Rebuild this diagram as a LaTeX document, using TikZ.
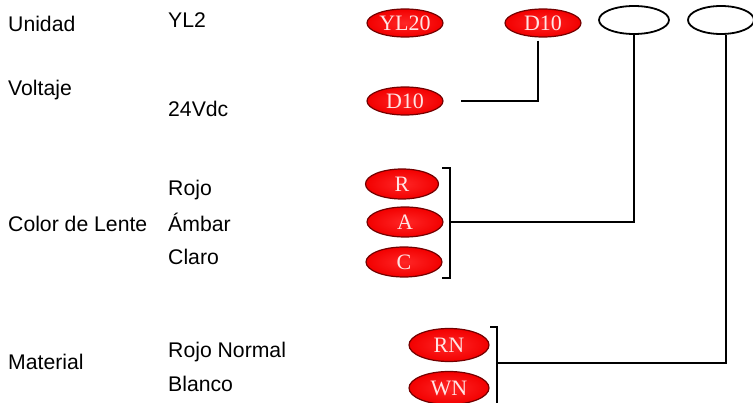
\documentclass[tikz,border=0pt]{standalone}
\usepackage{fontspec}
\setmainfont{Liberation Sans}
\newfontfamily\ovalfont{Liberation Serif}
\usetikzlibrary{shapes.geometric}

\begin{document}
\begin{tikzpicture}[x=1pt,y=-1pt,
    lbl/.style={anchor=base west,inner sep=0pt,font=\fontsize{21.2}{24}\selectfont},
    pill/.style={ellipse,draw=red!45!black,line width=1.2pt,inner color=red!85!white,outer color=red!95!black,text=white!90!red,minimum width=76pt,minimum height=28pt,inner sep=0pt,font=\ovalfont\fontsize{22}{22}\selectfont},
    ring/.style={ellipse,draw,line width=1.8pt,minimum width=70pt,minimum height=28pt,inner sep=0pt},
    link/.style={line width=1.2pt}]
    \useasboundingbox (0,0) rectangle (753,403);
        % texts
        \node[lbl] (unit) at (8,32) {Unidad};
        \node[lbl] (yl2) at (168,28) {YL2};
        \node[lbl] (volt) at (8,96) {Voltaje};
        \node[lbl] (vdc) at (168,117) {24Vdc};
        \node[lbl] (lens) at (8,232) {Color de Lente};
        \node[lbl] (rojo) at (168,196) {Rojo};
        \node[lbl] (ambar) at (168,232) {Ámbar};
        \node[lbl] (claro) at (168,265) {Claro};
        \node[lbl] (mat) at (8,370) {Material};
        \node[lbl] (rn) at (168,358) {Rojo Normal};
        \node[lbl] (blanco) at (168,392) {Blanco};
        % ovals
        \node[pill] (pyl) at (405,23) {YL20};
        \node[pill] (pd10) at (543,23) {D10};
        \node[pill] (pvdc) at (405,101) {D10};
        \node[pill,minimum width=73pt,minimum height=30pt] (pr) at (402,184) {R};
        \node[pill,minimum height=30pt] (pa) at (405,222) {A};
        \node[pill,minimum height=30pt] (pc) at (404,262) {C};
        \node[pill,minimum width=80pt,minimum height=33pt] (prn) at (449,345) {RN};
        \node[pill,minimum width=80pt,minimum height=33pt] (pwn) at (449,388) {WN};
        \node[ring] (clr) at (634,20) {};
        \node[ring,minimum width=66pt] (mtl) at (721,20) {};
        % brackets
        \coordinate (lt) at (450,168);
        \coordinate (lb) at (450,278);
        \coordinate (lm) at (450,222);
        \coordinate (mt) at (497,327);
        \coordinate (mb) at (497,406);
        \coordinate (mm) at (497,363);
        \draw[link] ([xshift=-8pt]lt) -- (lt) -- (lb) -- ([xshift=-8pt]lb);
        \draw[link] ([xshift=-7pt]mt) -- (mt) -- (mb);
        % connectors
        \draw[link,shorten <=3pt] ([xshift=-5pt]pd10.south) |- ([xshift=17pt]pvdc.east);
        \draw[link] (lm) -| (clr.south);
        \draw[link] (mm) -| ([xshift=5pt]mtl.south);
    \end{tikzpicture}
\end{document}
